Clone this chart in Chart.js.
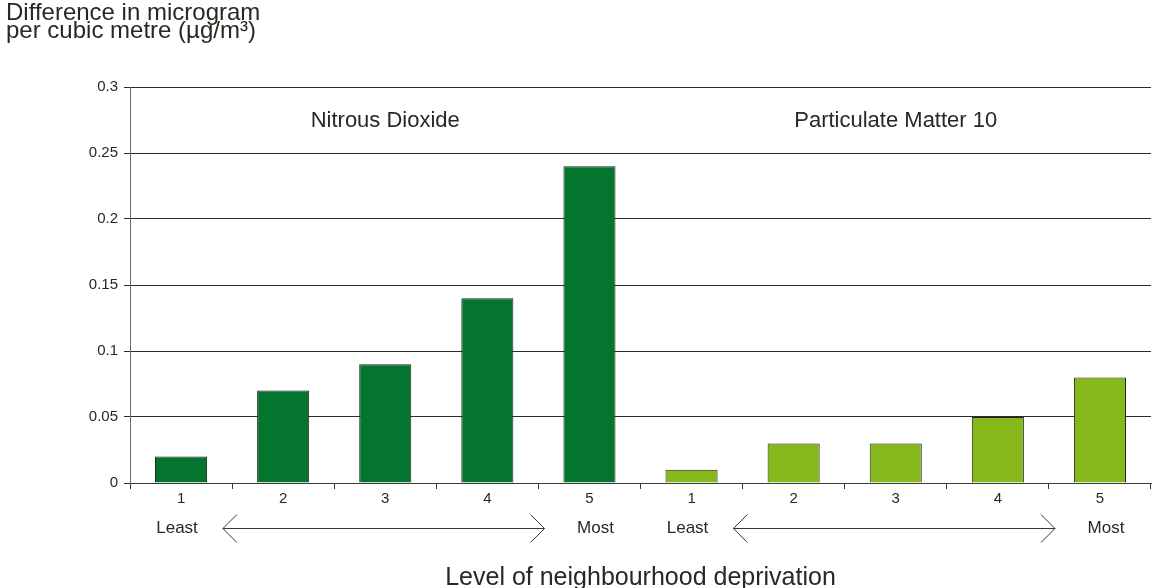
<!DOCTYPE html>
<html><head><meta charset="utf-8">
<script src="https://cdn.jsdelivr.net/npm/chart.js@4.4.1/dist/chart.umd.min.js"></script>
<style>html,body{margin:0;padding:0;background:#fff;}#wrap{width:1160px;height:588px;position:relative}</style>
</head><body><div id="wrap"><canvas id="c" width="1160" height="588"></canvas></div>
<script>
const groups = ['Nitrous Dioxide', 'Particulate Matter 10'];
const levels = ['1', '2', '3', '4', '5'];
const nitrousDioxide = [0.02, 0.07, 0.09, 0.14, 0.24];
const pm10 = [0.01, 0.03, 0.03, 0.05, 0.08];
const yTicks = [0, 0.05, 0.1, 0.15, 0.2, 0.25, 0.3];
const yTickLabels = ['0', '0.05', '0.1', '0.15', '0.2', '0.25', '0.3'];
const endLabels = ['Least', 'Most'];
const yTitle = ['Difference in microgram', 'per cubic metre (µg/m³)'];
const xTitle = 'Level of neighbourhood deprivation';

const FONT = '"Liberation Sans", Arial, Helvetica, sans-serif';
const TXT = '#2b2722';
const groupColors = ['#04752f', '#86b81c'];

const categories = levels.concat(levels);
const values = nitrousDioxide.concat(pm10);
const barColors = nitrousDioxide.map(() => groupColors[0]).concat(pm10.map(() => groupColors[1]));

const annot = {
  id: 'annot',
  afterDraw(chart) {
    const { ctx } = chart;
    const x = chart.scales.x, y = chart.scales.y;
    const cw = x.getPixelForValue(1) - x.getPixelForValue(0);
    ctx.save();
    ctx.fillStyle = TXT;
    ctx.textAlign = 'center';
    ctx.textBaseline = 'middle';
    ctx.font = '22px ' + FONT;
    groups.forEach((g, gi) => {
      const i0 = gi * levels.length, i1 = i0 + levels.length - 1;
      const cx = (x.getPixelForValue(i0) + x.getPixelForValue(i1)) / 2;
      ctx.fillText(g, cx, y.getPixelForValue(0.2745));
    });
    const ly = x.top + 45;
    ctx.font = '17px ' + FONT;
    groups.forEach((g, gi) => {
      const i0 = gi * levels.length, i1 = i0 + levels.length - 1;
      ctx.fillText(endLabels[0], x.getPixelForValue(i0) - 4, ly);
      ctx.fillText(endLabels[1], x.getPixelForValue(i1) + 6, ly);
      const xa = x.getPixelForValue(i0) + 0.41 * cw;
      const xb = x.getPixelForValue(i1) - 0.44 * cw;
      ctx.strokeStyle = '#3a3632';
      ctx.lineWidth = 1;
      ctx.beginPath();
      ctx.moveTo(xa, ly + 0.5); ctx.lineTo(xb, ly + 0.5);
      ctx.moveTo(xa + 14, ly - 13.5); ctx.lineTo(xa, ly + 0.5); ctx.lineTo(xa + 14, ly + 14.5);
      ctx.moveTo(xb - 14, ly - 13.5); ctx.lineTo(xb, ly + 0.5); ctx.lineTo(xb - 14, ly + 14.5);
      ctx.stroke();
    });
    ctx.restore();
  }
};

new Chart(document.getElementById('c'), {
  type: 'bar',
  data: {
    labels: categories,
    datasets: [{
      data: values,
      backgroundColor: barColors,
      borderColor: '#25231f',
      borderWidth: 1,
      categoryPercentage: 1,
      barPercentage: 0.51
    }]
  },
  options: {
    responsive: false,
    animation: false,
    events: [],
    layout: { padding: { left: 6, right: 9, top: 0, bottom: 0 } },
    plugins: {
      legend: { display: false },
      tooltip: { enabled: false },
      title: {
        display: true,
        text: yTitle,
        align: 'start',
        color: TXT,
        font: { family: FONT, size: 24, weight: 'normal', lineHeight: '18px' },
        padding: { top: 4, bottom: 47 }
      }
    },
    scales: {
      x: {
        type: 'category',
        offset: true,
        grid: { offset: true, drawOnChartArea: false, drawTicks: true, tickLength: 6, color: '#3a3a3a' },
        border: { color: '#3a3a3a', width: 1 },
        ticks: { color: TXT, font: { family: FONT, size: 15, lineHeight: 1 }, padding: 2, autoSkip: false, maxRotation: 0 },
        title: { display: true, text: xTitle, color: TXT, font: { family: FONT, size: 25, lineHeight: 1 }, padding: { top: 0, bottom: -2.5 } },
        afterFit(s) { s.height = 105; }
      },
      y: {
        min: 0, max: 0.3,
        afterBuildTicks(s) { s.ticks = yTicks.map(v => ({ value: v })); },
        grid: { color: '#2b2b2b', lineWidth: 1, drawTicks: true, tickLength: 6 },
        border: { color: '#6e6a64', width: 1 },
        ticks: { color: TXT, font: { family: FONT, size: 15 }, padding: 6, callback: (v, i) => yTickLabels[i] },
        afterFit(s) { s.width = 124; }
      }
    }
  },
  plugins: [annot]
});
</script></body></html>
